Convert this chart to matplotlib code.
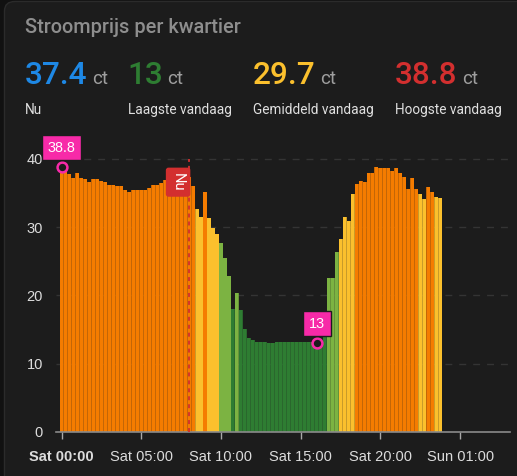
import matplotlib
matplotlib.use('Agg')
import matplotlib.pyplot as plt
from matplotlib.patches import FancyBboxPatch

# one value per quarter of an hour, in ct
prices = [38.8, 38.1, 37.8, 37.2, 38.0, 37.2, 37.0, 36.6, 37.0, 37.1, 36.8, 36.6,
          36.2, 36.2, 36.0, 36.0, 35.5, 35.2, 35.5, 35.5, 35.5, 35.5, 35.7, 36.2,
          36.2, 36.5, 36.9, 37.0, 37.1, 37.2, 37.3, 37.4, 37.4, 36.0, 32.6, 31.5,
          35.2, 31.3, 29.9, 29.0, 27.7, 25.5, 22.8, 18.0, 20.4, 17.9, 15.0, 13.7,
          13.5, 13.1, 13.1, 13.1, 13.0, 13.0, 13.1, 13.1, 13.1, 13.1, 13.1, 13.1,
          13.1, 13.1, 13.1, 13.1, 13.0, 13.1, 17.7, 22.5, 22.5, 26.4, 28.2, 31.5,
          30.9, 34.9, 36.3, 36.8, 36.6, 37.9, 37.9, 38.8, 38.7, 38.7, 38.7, 38.2,
          38.7, 37.9, 37.3, 35.6, 37.2, 35.6, 34.9, 34.1, 35.9, 35.1, 34.4, 34.3]
tick_pos = [0, 20, 40, 60, 80, 100]
tick_labels = ['Sat 00:00', 'Sat 05:00', 'Sat 10:00', 'Sat 15:00', 'Sat 20:00', 'Sun 01:00']
y_ticks = [0, 10, 20, 30, 40]

stat_values = ['37.4', '13', '29.7', '38.8']
stat_names = ['Nu', 'Laagste vandaag', 'Gemiddeld vandaag', 'Hoogste vandaag']
stat_colors = ['#1e88e5', '#2e7d32', '#fbc02d', '#d32f2f']
stat_left = [25, 127, 253, 395]
stat_unit_left = [92, 167, 320, 462]
name_left = [25, 128, 253, 395]

now_pos = 32.1
min_pos, max_pos = 64, 0

W, H = 517, 476
BG = '#1c1c1c'
CHART_FONT = ['Liberation Sans', 'DejaVu Sans']


def price_color(v):
    if v < 20:
        return '#2e7d32'
    if v < 28:
        return '#7cb342'
    if v < 35:
        return '#fbc02d'
    return '#f57c00'


def px(x, y):
    return x / W, 1 - y / H


plt.rcParams['font.family'] = ['Roboto', 'DejaVu Sans']

fig = plt.figure(figsize=(W / 100, H / 100), dpi=100)
fig.patch.set_facecolor('#111111')
card = FancyBboxPatch((4.5 / W, -0.05), 1.1, 1.05 - 1.5 / H, transform=fig.transFigure,
                      boxstyle='round,pad=0,rounding_size=0.02', facecolor=BG,
                      edgecolor='#2b2b2b', lw=1, zorder=-5)
fig.add_artist(card)

# header
fig.text(*px(25, 33), 'Stroomprijs per kwartier', fontsize=14.3, weight=500, color='#8e8e8e')
for val, name, col, x0, x1, x2 in zip(stat_values, stat_names, stat_colors, stat_left, stat_unit_left, name_left):
    fig.text(*px(x0, 83.5), val, fontsize=22.7, weight=500, color=col)
    fig.text(*px(x1, 83.5), 'ct', fontsize=13.5, color='#9e9e9e')
    fig.text(*px(x2, 114), name, fontsize=9.8, color='#e0e0e0')

# chart area, axes placed in pixels so the bars line up
left, right, top, bottom = 56, 510, 150, 431.7
ax = fig.add_axes([left / W, 1 - bottom / H, (right - left) / W, (bottom - top) / H])
ax.patch.set_alpha(0)
unit_x = 3.987
unit_y = 6.82
origin_x = 61.5
ax.set_xlim((left - origin_x) / unit_x, (right - origin_x) / unit_x)
ax.set_ylim(0, (bottom - top) / unit_y)

for i, v in enumerate(prices):
    c = price_color(v)
    ax.bar(i, v, width=1.0, color=c, alpha=0.78, lw=0, zorder=2)
    ax.bar(i, v, width=0.78, color=c, lw=0, zorder=3)

ax.set_axisbelow(True)
ax.yaxis.grid(True, color='#343434', lw=1, ls=(0, (5, 5)), zorder=1)
ax.xaxis.grid(False)
for s in ['top', 'right', 'left']:
    ax.spines[s].set_visible(False)
ax.spines['bottom'].set_color('#8a8a8a')
ax.spines['bottom'].set_linewidth(1.2)
ax.spines['bottom'].set_zorder(5)

ax.set_xticks(tick_pos)
ax.set_xticklabels(tick_labels, family=CHART_FONT)
ax.set_yticks(y_ticks)
ax.set_yticklabels([str(t) for t in y_ticks], family=CHART_FONT)
ax.tick_params(axis='x', length=5, width=1, color='#a8a8a8', labelcolor='#dcdcdc', labelsize=10.5, pad=8)
ax.tick_params(axis='y', length=0, labelcolor='#dcdcdc', labelsize=10.5, pad=9.5)
ax.get_xticklabels()[0].set_fontweight('bold')

# current time line with its label
ax.axvline(now_pos, ymax=40 / ax.get_ylim()[1], color='#d32f2f', lw=1.3, ls=(0, (2.2, 2.2)), zorder=6)
ax.annotate('Nu', (now_pos, 37.4), xytext=(-8.2, -4.0), textcoords='offset points', rotation=-90,
            ha='center', va='center', fontsize=10.5, color='white', zorder=8,
            bbox=dict(boxstyle='round,pad=0.36,rounding_size=0.18', facecolor='#d32f2f', edgecolor='none'))

# min and max markers
for pos, text in [(max_pos, '38.8'), (min_pos, '13')]:
    ax.scatter(pos, prices[pos], s=50, facecolor=BG, edgecolor='#f72aa8', lw=1.8, zorder=9, clip_on=False)
    ax.annotate(text, (pos, prices[pos]), xytext=(0, 14), textcoords='offset points',
                ha='center', va='center', fontsize=10.4, color='white', zorder=10, family=CHART_FONT,
                bbox=dict(boxstyle='square,pad=0.4', facecolor='#f72aa8', edgecolor=BG, lw=1))

fig.savefig('out.png', dpi=100, facecolor=fig.get_facecolor())
